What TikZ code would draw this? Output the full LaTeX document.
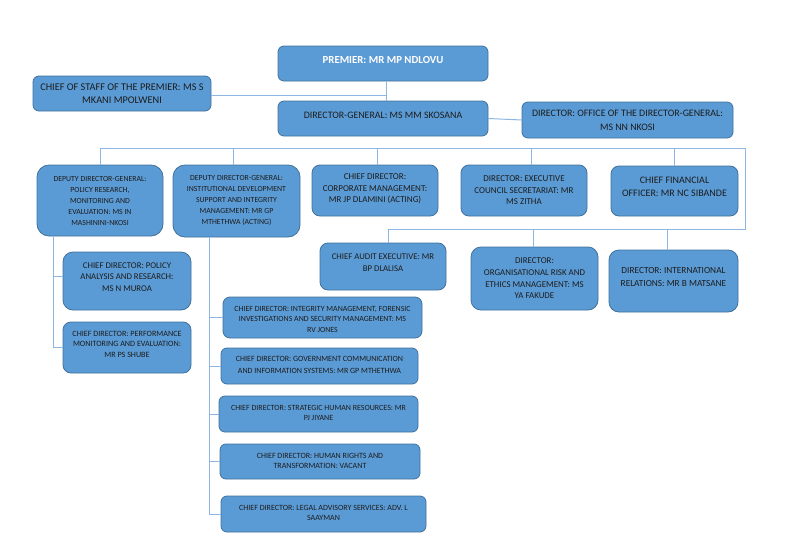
\documentclass[tikz,border=0pt]{standalone}
\usepackage{fontspec}
\setmainfont{Carlito}
\definecolor{boxfill}{HTML}{5B9BD5}
\definecolor{boxline}{HTML}{41719C}
\definecolor{connc}{HTML}{8DB6E2}
\definecolor{textc}{HTML}{1C1C1C}
\newcommand\fs[2]{\fontsize{#1}{#2}\selectfont}
\tikzset{
  box/.style={draw=boxline, fill=boxfill, line width=0.8pt, anchor=north west, inner sep=0pt, outer sep=0pt},
  txt/.style={align=center, inner sep=0pt, text=textc},
  conn/.style={draw=connc, line width=1pt}
}
% #1 name, #2 x, #3 y, #4 w, #5 h, #6 radius, #7 text style, #8 text
\newcommand\orgbox[8]{%
  \node[box, minimum width=#4pt, minimum height=#5pt, rounded corners=#6pt] (#1) at (#2,#3) {};
  \node[txt, #7] (#1-t) at (#1.center) {#8};
}
\begin{document}
\begin{tikzpicture}[x=1pt,y=-1pt]
\useasboundingbox (0,0) rectangle (793,538);
\orgbox{premier}{278}{46}{210}{35}{6}{font=\bfseries\fs{10.8}{12}, text=white, yshift=3.5pt}{PREMIER: MR MP NDLOVU}
\orgbox{cos}{33}{76}{178}{35}{6}{font=\fs{10.3}{12.7}}{CHIEF OF STAFF OF THE PREMIER: MS S\\MKANI MPOLWENI}
\orgbox{dg}{278}{101}{210}{35}{6}{font=\fs{9.9}{12}, yshift=3.5pt}{DIRECTOR-GENERAL: MS MM SKOSANA}
\orgbox{dgo}{522}{102}{211}{36}{6}{font=\fs{9.9}{14}}{DIRECTOR: OFFICE OF THE DIRECTOR-GENERAL:\\MS NN NKOSI}
\orgbox{ddg1}{37}{165}{126}{71}{12}{font=\fs{7.8}{11}}{DEPUTY DIRECTOR-GENERAL:\\POLICY RESEARCH,\\MONITORING AND\\EVALUATION: MS IN\\MASHININI-NKOSI}
\orgbox{ddg2}{173}{165}{127}{72}{12}{font=\fs{7.8}{11}}{DEPUTY DIRECTOR-GENERAL:\\INSTITUTIONAL DEVELOPMENT\\SUPPORT AND INTEGRITY\\MANAGEMENT: MR GP\\MTHETHWA (ACTING)}
\orgbox{cdcorp}{312}{165}{126}{51}{8}{font=\fs{9}{11.3}, yshift=1.5pt}{CHIEF DIRECTOR:\\CORPORATE MANAGEMENT:\\MR JP DLAMINI (ACTING)}
\orgbox{dexec}{461}{165}{126}{51}{8}{font=\fs{9}{11.5}}{DIRECTOR: EXECUTIVE\\COUNCIL SECRETARIAT: MR\\MS ZITHA}
\orgbox{cfo}{611}{166}{127}{50}{8}{font=\fs{10}{12.7}, yshift=4pt}{CHIEF FINANCIAL\\OFFICER: MR NC SIBANDE}
\orgbox{audit}{320}{243}{126}{47}{8}{font=\fs{8.75}{12.3}, yshift=3.5pt}{CHIEF AUDIT EXECUTIVE: MR\\BP DLALISA}
\orgbox{orgrisk}{471}{247}{127}{63}{10}{font=\fs{8.9}{11.7}}{DIRECTOR:\\ORGANISATIONAL RISK AND\\ETHICS MANAGEMENT: MS\\YA FAKUDE}
\orgbox{intl}{609}{250}{129}{62}{10}{font=\fs{9.3}{12.3}, yshift=4pt}{DIRECTOR: INTERNATIONAL\\RELATIONS: MR B MATSANE}
\orgbox{cdpol}{63}{252}{128}{58}{10}{font=\fs{8.8}{11.7}, yshift=4pt}{CHIEF DIRECTOR: POLICY\\ANALYSIS AND RESEARCH:\\MS N MUROA}
\orgbox{cdperf}{63}{322}{128}{51}{8}{font=\fs{8.1}{10.5}, yshift=3.5pt}{CHIEF DIRECTOR: PERFORMANCE\\MONITORING AND EVALUATION:\\MR PS SHUBE}
\orgbox{cdint}{223}{297}{199}{41}{7}{font=\fs{7.9}{10.5}, yshift=-1.5pt}{CHIEF DIRECTOR: INTEGRITY MANAGEMENT, FORENSIC\\INVESTIGATIONS AND SECURITY MANAGEMENT: MS\\RV JONES}
\orgbox{cdgov}{221}{348}{197}{36}{6}{font=\fs{8}{12}, yshift=1pt}{CHIEF DIRECTOR: GOVERNMENT COMMUNICATION\\AND INFORMATION SYSTEMS: MR GP MTHETHWA}
\orgbox{cdshr}{219}{396}{199}{36}{6}{font=\fs{7.95}{10}, yshift=1.5pt}{CHIEF DIRECTOR: STRATEGIC HUMAN RESOURCES: MR\\PJ JIYANE}
\orgbox{cdhr}{220}{444}{200}{35}{6}{font=\fs{8}{10}, yshift=1pt}{CHIEF DIRECTOR: HUMAN RIGHTS AND\\TRANSFORMATION: VACANT}
\orgbox{cdlegal}{221}{496}{205}{36}{6}{font=\fs{8}{10}, yshift=1.5pt}{CHIEF DIRECTOR: LEGAL ADVISORY SERVICES: ADV. L\\SAAYMAN}
% connector helper points
\coordinate (busR) at (745,148);
\coordinate (busB) at (745,229);
\coordinate (premB) at ([xshift=3pt]premier.south);
\coordinate (dgT) at ([xshift=3pt]dg.north);
\coordinate (auditT) at ([xshift=5pt]audit.north);
\coordinate (ddg2T) at ([xshift=-3.5pt]ddg2.north);
\coordinate (corpT) at ([xshift=2pt]cdcorp.north);
\coordinate (execT) at ([xshift=7pt]dexec.north);
\coordinate (riskT) at ([xshift=-1.5pt]orgrisk.north);
\coordinate (intlT) at ([xshift=-6.5pt]intl.north);
\coordinate (leftTr) at ([xshift=-47pt]ddg1.south);
\coordinate (midTr) at ([xshift=-27.5pt]ddg2.south);
\coordinate (cosE) at ([yshift=-1.5pt]cos.east);
\coordinate (polW) at ([yshift=5pt]cdpol.west);
% connectors
\draw[conn] (premB) -- (dgT);
\draw[conn] (cosE) -- (cosE -| premB);
\draw[conn] (dg.east) -- (dgo.west);
\draw[conn] (ddg1.north) -- (ddg1.north |- busR) -- (busR) -- (busB) -- (busB -| auditT) -- (auditT);
\draw[conn] (ddg2T) -- (ddg2T |- busR);
\draw[conn] (corpT) -- (corpT |- busR);
\draw[conn] (execT) -- (execT |- busR);
\draw[conn] (cfo.north) -- (cfo.north |- busR);
\draw[conn] (riskT) -- (riskT |- busB);
\draw[conn] (intlT) -- (intlT |- busB);
\draw[conn] (leftTr) |- (cdperf.west);
\draw[conn] (polW) -- (polW -| leftTr);
\draw[conn] (midTr) |- (cdlegal.west);
\foreach \b in {cdint,cdgov,cdshr,cdhr}
  \draw[conn] (\b.west) -- (\b.west -| midTr);
\end{tikzpicture}
\end{document}
